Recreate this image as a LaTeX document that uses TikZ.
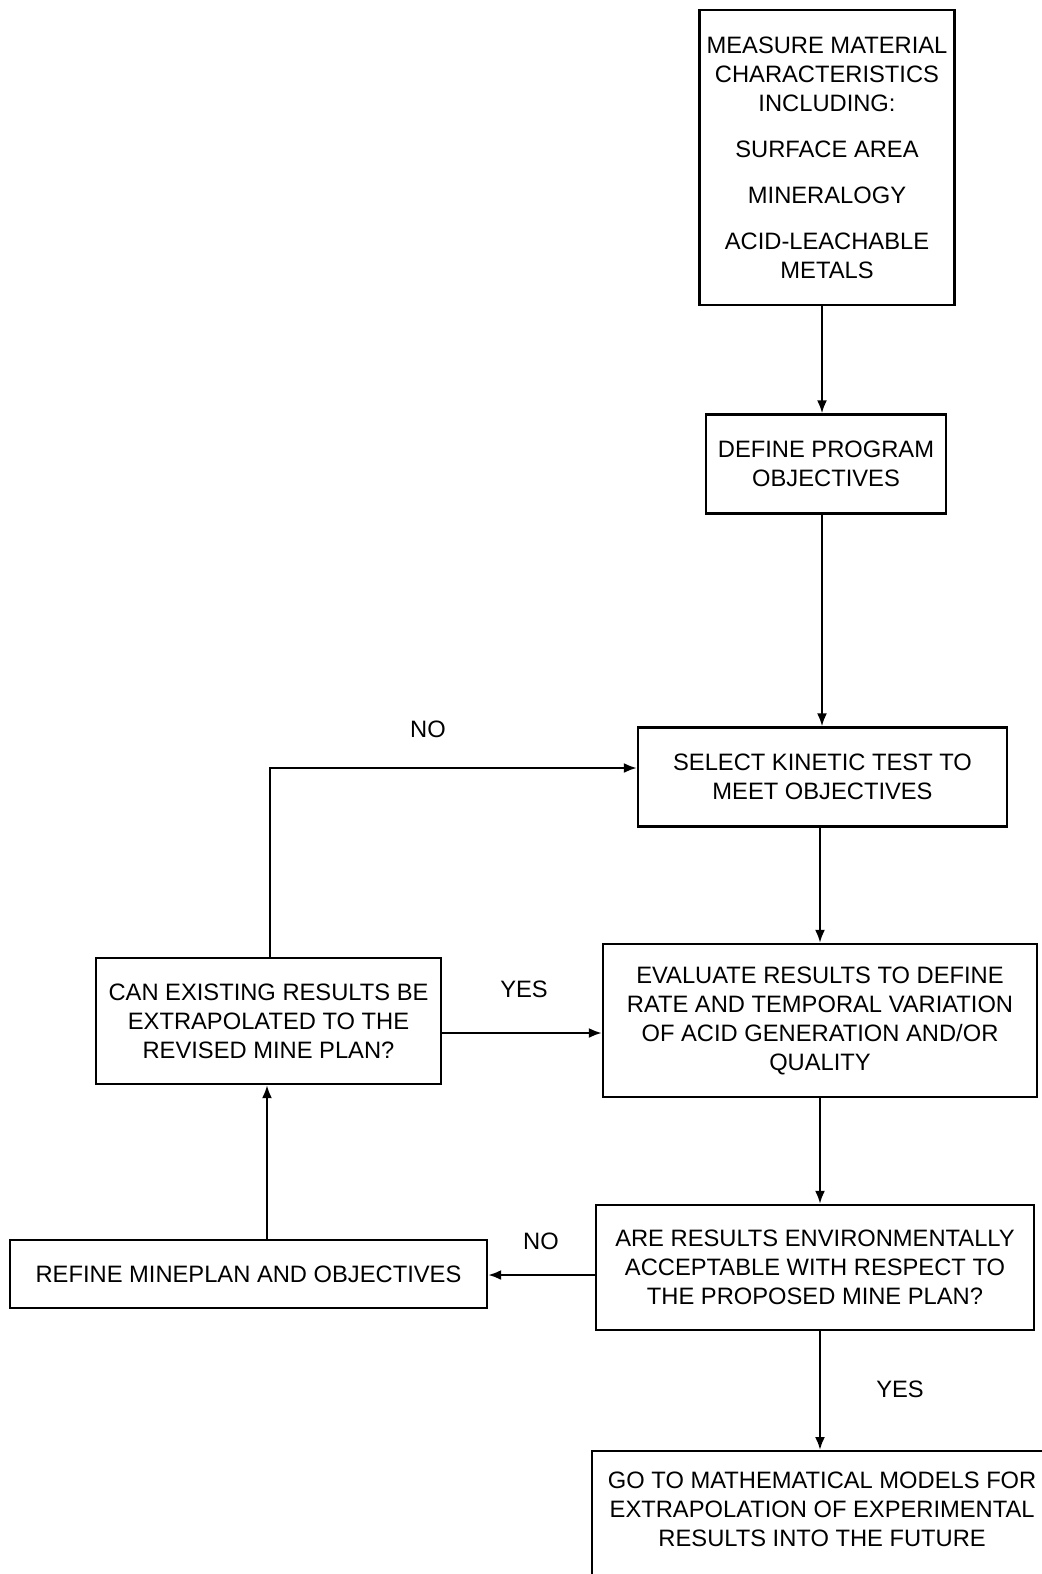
\documentclass[tikz,border=0pt]{standalone}
\usepackage{fontspec}
\setmainfont{Liberation Sans}
\usetikzlibrary{positioning, arrows.meta}

\begin{document}
\begin{tikzpicture}[
        box/.style={rectangle,draw,line width=1.3pt,align=center,inner sep=2pt,
          font=\fontsize{13.5}{16.5}\selectfont},
        lbl/.style={font=\fontsize{13.5}{16.5}\selectfont},
        arr/.style={line width=1.3pt,-{Latex[length=2.6mm,width=2mm]}}
      ]
      \clip (0,0) rectangle (20.84,-31.48);
      % main column
      \node[box,minimum width=5.1cm,minimum height=5.9cm] (measure) at (16.54,-3.15)
        {MEASURE MATERIAL\\CHARACTERISTICS\\INCLUDING:\\[0.34cm]
         SURFACE AREA\\[0.34cm]MINERALOGY\\[0.34cm]ACID-LEACHABLE\\METALS};
      \node[box,minimum width=4.8cm,minimum height=1.98cm] (define) at (16.52,-9.28)
        {DEFINE PROGRAM\\OBJECTIVES};
      \node[box,minimum width=7.38cm,minimum height=1.98cm] (select) at (16.45,-15.54)
        {SELECT KINETIC TEST TO\\MEET OBJECTIVES};
      \node[box,minimum width=8.68cm,minimum height=3.06cm] (evaluate) at (16.4,-20.41)
        {EVALUATE RESULTS TO DEFINE\\RATE AND TEMPORAL VARIATION\\
         OF ACID GENERATION AND/OR\\QUALITY};
      \node[box,minimum width=8.76cm,minimum height=2.5cm] (accept) at (16.3,-25.35)
        {ARE RESULTS ENVIRONMENTALLY\\ACCEPTABLE WITH RESPECT TO\\
         THE PROPOSED MINE PLAN?};
      \node[box,anchor=north west,minimum width=9.2cm,inner xsep=2pt,inner ysep=0.42cm,
        text depth=1.6cm] (models) at (11.82,-29.0)
        {GO TO MATHEMATICAL MODELS FOR\\EXTRAPOLATION OF EXPERIMENTAL\\
         RESULTS INTO THE FUTURE};
      % left column
      \node[box,minimum width=6.9cm,minimum height=2.52cm] (extrap) at (5.37,-20.42)
        {CAN EXISTING RESULTS BE\\EXTRAPOLATED TO THE\\REVISED MINE PLAN?};
      \node[box,minimum width=9.54cm,minimum height=1.36cm] (refine) at (4.97,-25.48)
        {REFINE MINEPLAN AND OBJECTIVES};
      % connectors
      \draw[arr] (measure.south -| 16.44,0) -- (define.north -| 16.44,0);
      \draw[arr] (define.south -| 16.44,0) -- (select.north -| 16.44,0);
      \draw[arr] (select.south -| 16.4,0) -- (evaluate.north -| 16.4,0);
      \draw[arr] (evaluate.south -| 16.4,0) -- (accept.north -| 16.4,0);
      \draw[arr] (accept.south -| 16.4,0) -- (models.north -| 16.4,0);
      \draw[arr] (accept.west |- 0,-25.5) -- (refine.east |- 0,-25.5);
      \draw[arr] (refine.north -| 5.34,0) -- (extrap.south -| 5.34,0);
      \draw[arr] (extrap.north -| 5.4,0) |- (select.west |- 0,-15.36);
      \draw[arr] (extrap.east |- 0,-20.66) -- (evaluate.west |- 0,-20.66);
      % labels
      \node[lbl] (no1) at (8.56,-14.58) {NO};
      \node[lbl] (yes1) at (10.48,-19.78) {YES};
      \node[lbl] (no2) at (10.82,-24.82) {NO};
      \node[lbl] (yes2) at (18.0,-27.78) {YES};
    \end{tikzpicture}
\end{document}
